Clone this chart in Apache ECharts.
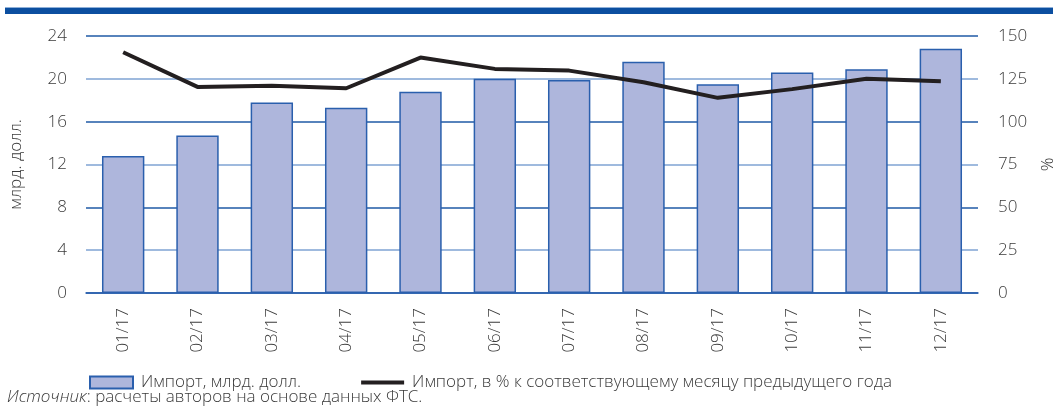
<!DOCTYPE html>
<html>
<head>
<meta charset="utf-8">
<script src="https://cdn.jsdelivr.net/npm/echarts@6/dist/echarts.min.js"></script>
<style>
html,body{margin:0;padding:0;background:#fff;}
#chart{width:1058px;height:417px;}
</style>
</head>
<body>
<div id="chart"></div>
<script>
const categories = ['01/17','02/17','03/17','04/17','05/17','06/17','07/17','08/17','09/17','10/17','11/17','12/17'];
const importBn = [12.8, 14.7, 17.8, 17.3, 18.8, 20.0, 19.9, 21.6, 19.5, 20.6, 20.9, 22.8];
const importPct = [140.5, 120.3, 121.0, 119.5, 137.4, 130.8, 129.8, 123.0, 113.9, 119.0, 125.1, 123.6];
const leftTicks = {min: 0, max: 24, interval: 4};
const rightTicks = {min: 0, max: 150, interval: 25};
const seriesNames = ['Импорт, млрд. долл.', 'Импорт, в % к соответствующему месяцу предыдущего года'];

const FONT = '"Open Sans", "Noto Sans", sans-serif';
const TXT = '#3a3a3a';
const FS = 17;
const FW = 300;
const chart = echarts.init(document.getElementById('chart'), null, {renderer: 'canvas'});
chart.setOption({
  animation: false,
  backgroundColor: '#fff',
  textStyle: {fontFamily: FONT, color: TXT, fontWeight: FW},
  grid: {left: 86, right: 80, top: 36, bottom: 124, containLabel: false, outerBoundsMode: 'none'},
  legend: {
    left: 84, top: 369,
    itemWidth: 43, itemHeight: 12, itemGap: 58,
    textStyle: {fontFamily: FONT, fontSize: FS, fontWeight: FW, color: TXT, padding: [0, 0, 0, 3]},
    data: [
      {name: seriesNames[0], icon: 'rect'},
      {name: seriesNames[1], itemStyle: {color: 'rgba(0,0,0,0)', borderColor: 'rgba(0,0,0,0)', borderWidth: 0}, lineStyle: {width: 4, color: '#231f20'}}
    ]
  },
  graphic: [
    {type: 'rect', left: 5, top: 8, shape: {width: 1048, height: 6}, style: {fill: '#0c4fa0'}},
    {type: 'rect', left: 5, top: 7, shape: {width: 1048, height: 1}, style: {fill: '#8fb0d8'}},
    {type: 'text', left: 7, top: 389, style: {
      text: '{i|Источник}: расчеты авторов на основе данных ФТС.',
      font: FW + ' ' + FS + 'px ' + FONT, fill: TXT,
      rich: {i: {fontStyle: 'italic', fontWeight: FW, fontFamily: FONT, fontSize: FS, fill: TXT}}
    }}
  ],
  xAxis: {
    type: 'category', data: categories, boundaryGap: true,
    axisLine: {lineStyle: {color: '#2a5fad', width: 1.5}},
    axisTick: {show: false},
    axisLabel: {rotate: 90, margin: 15, fontSize: FS, fontWeight: FW, color: TXT, fontFamily: FONT}
  },
  yAxis: [
    {
      type: 'value', min: leftTicks.min, max: leftTicks.max, interval: leftTicks.interval,
      name: 'млрд. долл.', nameLocation: 'middle', nameRotate: 90, nameGap: 61,
      nameTextStyle: {fontSize: FS, fontWeight: FW, color: TXT, fontFamily: FONT},
      axisLine: {show: false}, axisTick: {show: false},
      axisLabel: {margin: 19, fontSize: FS, fontWeight: FW, color: TXT, fontFamily: FONT},
      splitLine: {show: true, lineStyle: {color: ['#1f5aa6', '#7fa3d3'], width: 1.5}}
    },
    {
      type: 'value', min: rightTicks.min, max: rightTicks.max, interval: rightTicks.interval,
      name: '%', nameLocation: 'middle', nameRotate: 90, nameGap: 62,
      nameTextStyle: {fontSize: FS, fontWeight: FW, color: TXT, fontFamily: FONT},
      axisLine: {show: false}, axisTick: {show: false},
      axisLabel: {margin: 20, fontSize: FS, fontWeight: FW, color: TXT, fontFamily: FONT},
      splitLine: {show: false}
    }
  ],
  series: [
    {
      name: seriesNames[0], type: 'bar', data: importBn, yAxisIndex: 0,
      barWidth: '57%',
      itemStyle: {color: '#aeb6dc', borderColor: '#2a5fad', borderWidth: 1.5}
    },
    {
      name: seriesNames[1], type: 'line', data: importPct, yAxisIndex: 1,
      symbol: 'none',
      lineStyle: {color: '#231f20', width: 4},
      itemStyle: {color: '#231f20'}
    }
  ]
});
</script>
</body>
</html>
